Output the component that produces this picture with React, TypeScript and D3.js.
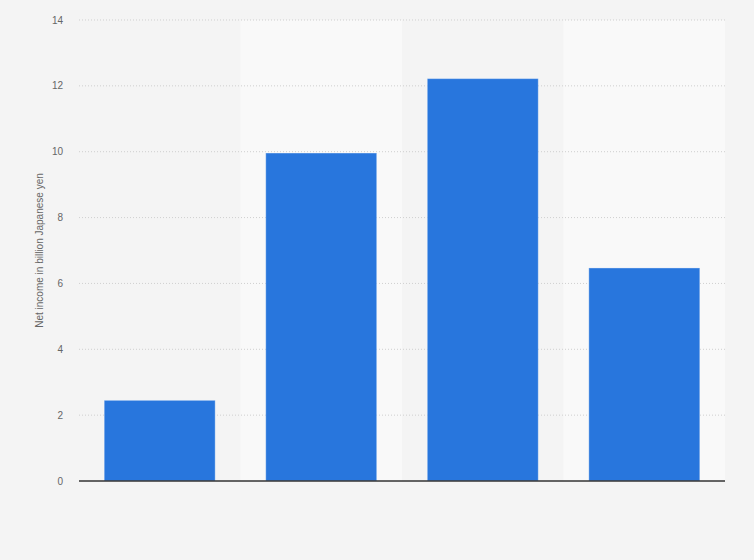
import { scaleBand, scaleLinear } from "d3";

// Net income per period, billion yen (x-axis labels are not shown in the source)
const categories = ["A", "B", "C", "D"];
const netIncome = [2.45, 9.96, 12.22, 6.47];
const yTicks = [0, 2, 4, 6, 8, 10, 12, 14];
const yLabel = "Net income in billion Japanese yen";

const width = 754;
const height = 560;
const margin = { top: 20, right: 29, bottom: 79, left: 79 };

export default function App() {
  const x = scaleBand<string>()
    .domain(categories)
    .range([margin.left, width - margin.right])
    .paddingInner(0.313)
    .paddingOuter(0.156);

  // full-width bands for the alternating background stripes
  const stripe = scaleBand<string>()
    .domain(categories)
    .range([margin.left, width - margin.right]);

  const y = scaleLinear()
    .domain([0, 14])
    .range([height - margin.bottom, margin.top]);

  return (
    <div style={{ position: "fixed", left: 0, top: 0 }}>
      <svg
        width={width}
        height={height}
        style={{ display: "block", fontFamily: "'Liberation Sans', Arial, sans-serif" }}
      >
        <rect width={width} height={height} fill="#f4f4f4" />

        {/* Stripes */}
        {categories.map((c, i) =>
          i % 2 === 1 ? (
            <rect
              key={c}
              x={stripe(c)}
              y={y(14)}
              width={stripe.bandwidth()}
              height={y(0) - y(14)}
              fill="#f9f9f9"
            />
          ) : null
        )}

        {/* Grid lines + y tick labels */}
        {yTicks.map((t) => (
          <g key={t} transform={`translate(0,${y(t)})`}>
            {t !== 0 && (
              <line
                x1={margin.left}
                x2={width - margin.right}
                stroke="#cfcfcf"
                strokeWidth={1}
                strokeDasharray="1,2"
              />
            )}
            <text
              x={63}
              dy="0.35em"
              textAnchor="end"
              fontSize={10}
              fill="#666"
            >
              {t}
            </text>
          </g>
        ))}

        {/* Bars */}
        {categories.map((c, i) => (
          <rect
            key={c}
            x={x(c)}
            y={y(netIncome[i])}
            width={x.bandwidth()}
            height={y(0) - y(netIncome[i])}
            fill="#2876dd"
            stroke="#ffffff"
            strokeOpacity={0.35}
            strokeWidth={1}
          />
        ))}

        {/* Baseline */}
        <line
          x1={margin.left}
          x2={width - margin.right}
          y1={y(0)}
          y2={y(0)}
          stroke="#333"
          strokeWidth={1.3}
        />

        {/* Y axis title */}
        <text
          transform={`translate(43,${(y(0) + y(14)) / 2}) rotate(-90)`}
          textAnchor="middle"
          fontSize={10}
          fill="#666"
        >
          {yLabel}
        </text>
      </svg>
    </div>
  );
}
